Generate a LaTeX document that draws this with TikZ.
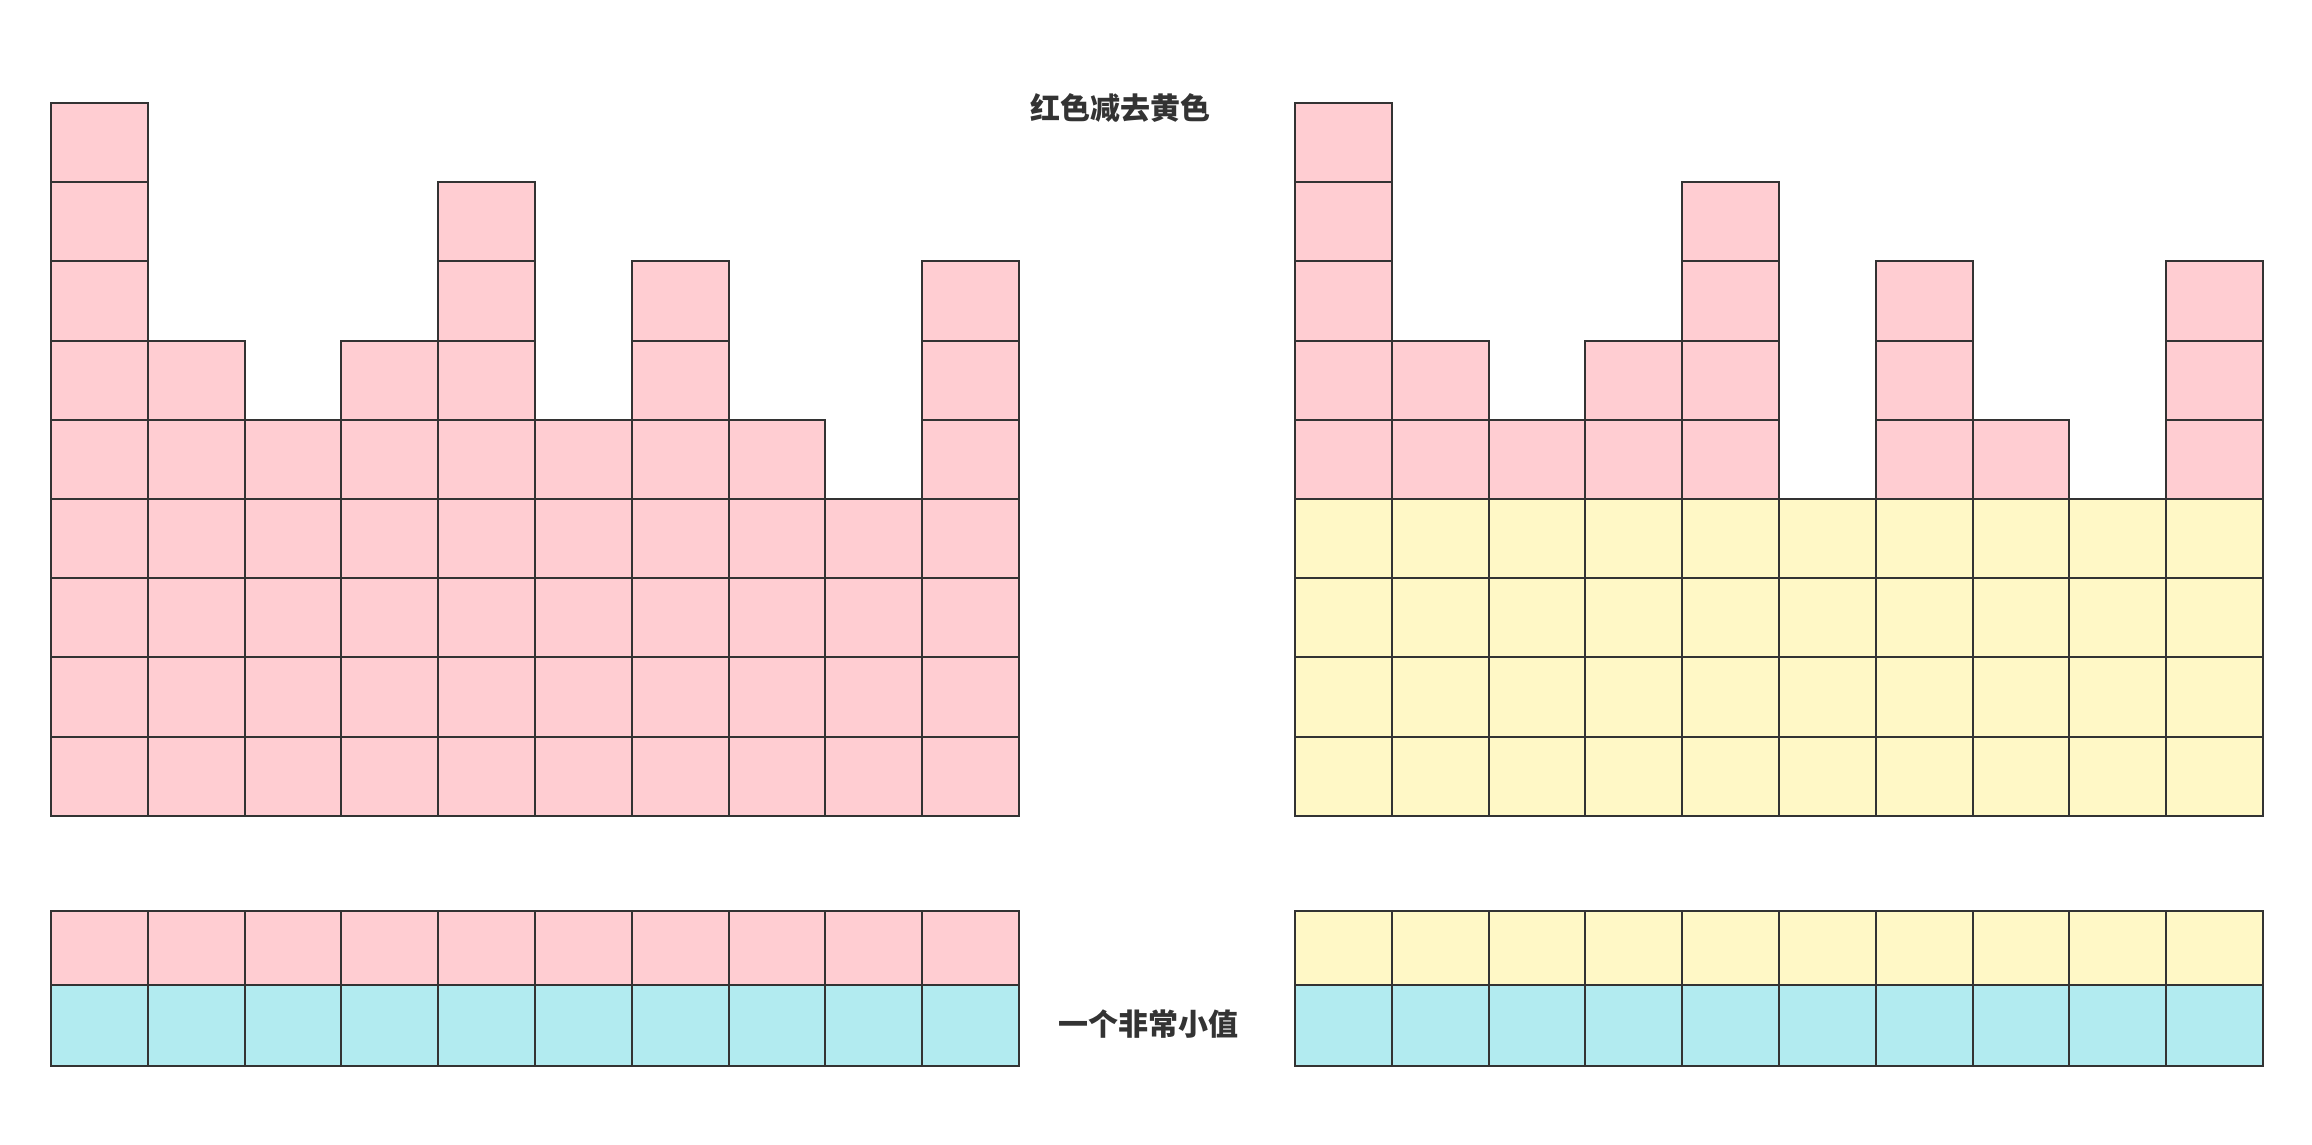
\documentclass[tikz,border=0pt]{standalone}
\usepackage{fontspec}
\newfontfamily\cjk{Noto Sans CJK SC}
\definecolor{pinkc}{HTML}{FFCDD2}
\definecolor{yellowc}{HTML}{FFF8C6}
\definecolor{cyanc}{HTML}{B2EBF0}
\definecolor{linec}{HTML}{333333}
\begin{document}
\begin{tikzpicture}[x=1pt,y=-1pt,
  cell/.style={draw=linec, line width=2pt},
  label/.style={font=\cjk\bfseries\fontsize{30}{36}\selectfont, text=linec, inner sep=0pt}]
\useasboundingbox[fill=white] (0,0) rectangle (2312,1144);
\def\cw{96.8}
\def\rh{79.2}
\def\ybot{815.8}
% left histogram (all pink)
\foreach \h [count=\i from 0] in {9,6,5,6,8,5,7,5,4,7} {
  \foreach \r in {1,...,\h} {
    \draw[cell, fill=pinkc] ({51+\i*\cw},{\ybot-(\r-1)*\rh}) rectangle ++(\cw,-\rh);
  }
}
% right histogram (bottom 4 rows yellow, rest pink)
\foreach \h [count=\i from 0] in {9,6,5,6,8,4,7,5,4,7} {
  \foreach \r in {1,...,4} {
    \draw[cell, fill=yellowc] ({1295+\i*\cw},{\ybot-(\r-1)*\rh}) rectangle ++(\cw,-\rh);
  }
  \ifnum\h>4
    \foreach \r in {5,...,\h} {
      \draw[cell, fill=pinkc] ({1295+\i*\cw},{\ybot-(\r-1)*\rh}) rectangle ++(\cw,-\rh);
    }
  \fi
}
% bottom strips
\foreach \i in {0,...,9} {
  \draw[cell, fill=pinkc] ({51+\i*\cw},911) rectangle ++(\cw,74);
  \draw[cell, fill=cyanc] ({51+\i*\cw},985) rectangle ++(\cw,81);
  \draw[cell, fill=yellowc] ({1295+\i*\cw},911) rectangle ++(\cw,74);
  \draw[cell, fill=cyanc] ({1295+\i*\cw},985) rectangle ++(\cw,81);
}
\node[label] (title) at (1120,107.5) {红色减去黄色};
\node[label] (small) at (1148,1024.5) {一个非常小值};
\end{tikzpicture}
\end{document}
